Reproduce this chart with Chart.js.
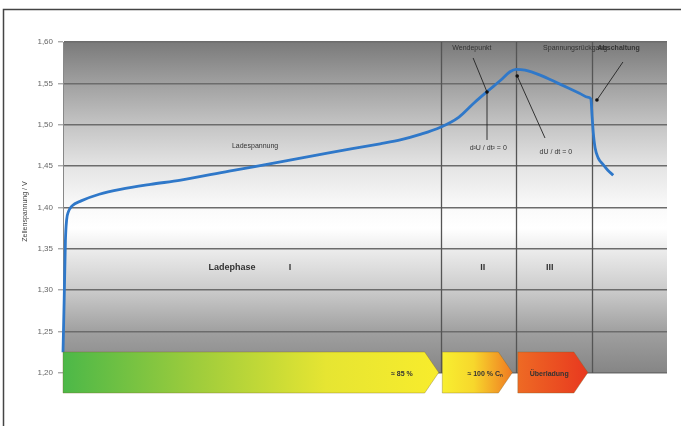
<!DOCTYPE html>
<html>
<head>
<meta charset="utf-8">
<script src="https://cdn.jsdelivr.net/npm/chart.js@4/dist/chart.umd.min.js"></script>
<style>
  html, body { margin: 0; padding: 0; background: #ffffff; }
  #wrap { width: 681px; height: 426px; position: relative; }
</style>
</head>
<body>
<div id="wrap"><canvas id="c" width="681" height="426"></canvas></div>
<script>
// Charge curve of a NiMH/NiCd cell: time axis (relative units) and cell voltage
const timeX = [0, 0.2, 0.4, 0.6, 0.9, 1.5, 3, 6, 9.5, 14.5, 19.5, 27.5, 36, 44, 52.5, 56, 59, 62.5,
  65.5, 68, 70.2, 72.5, 74, 75, 76.5, 79, 82, 85.5, 87.0, 87.4, 87.6, 87.8, 88.1, 88.6, 89.4, 90.2, 91.1];
const voltage = [1.225, 1.29, 1.36, 1.385, 1.395, 1.402, 1.408, 1.416, 1.422, 1.428, 1.433, 1.444,
  1.455, 1.466, 1.477, 1.482, 1.488, 1.497, 1.509, 1.526, 1.540, 1.554, 1.564, 1.567, 1.566, 1.560,
  1.550, 1.538, 1.533, 1.531, 1.510, 1.490, 1.472, 1.460, 1.452, 1.445, 1.439];

// Y axis
const yMin = 1.20, yMax = 1.60, yStep = 0.05;
const yTickLabels = ['1,20', '1,25', '1,30', '1,35', '1,40', '1,45', '1,50', '1,55', '1,60'];
const yTitle = 'Zellenspannung / V';

// Phase boundaries on the time axis
const phaseBounds = [62.5, 75, 87.5];

// Charge-state arrows along the bottom (start / tip on the time axis)
const arrowFrom = [0, 62.8, 75.3];
const arrowTo = [62.2, 74.4, 86.9];
const arrowLabels = ['≈ 85 %', '≈ 100 % Cₙ', 'Überladung'];
const arrowLabelX = [56.1, 69.9, 80.5];

// Phase names
const phaseTexts = ['Ladephase', 'I', 'II', 'III'];
const phaseTextX = [28.0, 37.6, 69.5, 80.6];
const phaseTextY = 1.327;

const bandTop = 1.2254, bandBottom = 1.1758;

const ctx = document.getElementById('c').getContext('2d');

const decor = {
  id: 'decor',
  beforeDraw(chart) {
    const c = chart.ctx, a = chart.chartArea, ys = chart.scales.y;
    c.save();
    // outer frame
    c.strokeStyle = '#444';
    c.lineWidth = 1.5;
    c.strokeRect(3.5, 9.5, 700, 440);
    // plot background: grey at top and bottom, white around 1,38 V
    const g = c.createLinearGradient(0, a.top, 0, a.bottom);
    const stops = [[1.60, '#7a7a7a'], [1.55, '#a0a0a0'], [1.50, '#c4c4c4'], [1.45, '#e4e4e4'],
      [1.40, '#fafafa'], [1.375, '#ffffff'], [1.35, '#ededed'], [1.30, '#cbcbcb'],
      [1.25, '#a0a0a0'], [1.20, '#858585']];
    stops.forEach(([v, col]) => {
      const t = (ys.getPixelForValue(v) - a.top) / (a.bottom - a.top);
      g.addColorStop(Math.min(1, Math.max(0, t)), col);
    });
    c.fillStyle = g;
    c.fillRect(a.left, a.top, a.right - a.left, a.bottom - a.top);
    c.restore();
  },
  beforeDatasetsDraw(chart) {
    const c = chart.ctx, a = chart.chartArea, xs = chart.scales.x;
    c.save();
    c.strokeStyle = '#555';
    c.lineWidth = 1.3;
    phaseBounds.forEach(v => {
      const px = Math.round(xs.getPixelForValue(v)) + 0.5;
      c.beginPath(); c.moveTo(px, a.top); c.lineTo(px, a.bottom); c.stroke();
    });
    c.restore();
  },
  afterDatasetsDraw(chart) {
    const c = chart.ctx, xs = chart.scales.x, ys = chart.scales.y;
    const X = v => xs.getPixelForValue(v), Y = v => ys.getPixelForValue(v);
    c.save();

    // annotations
    const font = '7px "Liberation Sans", Arial, sans-serif';
    c.fillStyle = '#333';
    c.strokeStyle = '#222';
    c.lineWidth = 0.9;
    c.textAlign = 'center';
    c.textBaseline = 'middle';
    c.font = font;
    c.fillText('Ladespannung', X(31.8), Y(1.4743));
    c.fillText('Wendepunkt', X(67.7), Y(1.5927));
    c.fillText('d²U / dt² = 0', X(70.4), Y(1.4719));
    c.fillText('dU / dt = 0', X(81.6), Y(1.4671));
    c.fillText('Spannungsrückgang', X(84.8), Y(1.5927));
    c.font = 'bold 7px "Liberation Sans", Arial, sans-serif';
    c.fillText('Abschaltung', X(92.0), Y(1.5927));
    const seg = (x1, y1, x2, y2) => {
      c.beginPath(); c.moveTo(X(x1), Y(y1)); c.lineTo(X(x2), Y(y2)); c.stroke();
    };
    const dot = (x, y) => {
      c.beginPath(); c.arc(X(x), Y(y), 1.8, 0, Math.PI * 2); c.fillStyle = '#111'; c.fill();
    };
    seg(67.9, 1.5807, 70.2, 1.5396);
    seg(70.2, 1.5396, 70.2, 1.4816);
    dot(70.2, 1.5396);
    seg(75.2, 1.5589, 79.8, 1.4840);
    dot(75.2, 1.5589);
    seg(88.4, 1.5299, 92.7, 1.5758);
    dot(88.4, 1.5299);

    // phase names
    c.fillStyle = '#333';
    c.font = 'bold 9px "Liberation Sans", Arial, sans-serif';
    phaseTexts.forEach((t, i) => c.fillText(t, X(phaseTextX[i]), Y(phaseTextY)));

    // charge-state arrows
    const grads = [
      [[0, '#4cb848'], [0.35, '#9dcc3c'], [0.7, '#e6e532'], [1, '#f8ec2c']],
      [[0, '#f8ef30'], [0.45, '#f7d72c'], [1, '#f07a22']],
      [[0, '#ee6a24'], [1, '#e8381f']]
    ];
    const top = Y(bandTop), bot = Y(bandBottom), mid = (top + bot) / 2, tip = 14;
    arrowFrom.forEach((f, i) => {
      const x0 = X(f), x1 = X(arrowTo[i]);
      const g = c.createLinearGradient(x0, 0, x1, 0);
      grads[i].forEach(([o, col]) => g.addColorStop(o, col));
      c.beginPath();
      c.moveTo(x0, top); c.lineTo(x1 - tip, top); c.lineTo(x1, mid);
      c.lineTo(x1 - tip, bot); c.lineTo(x0, bot); c.closePath();
      c.fillStyle = g; c.fill();
      c.strokeStyle = 'rgba(120,100,40,0.35)'; c.lineWidth = 1; c.stroke();
    });
    c.fillStyle = '#333';
    c.font = 'bold 7px "Liberation Sans", Arial, sans-serif';
    arrowLabels.forEach((t, i) => c.fillText(t, X(arrowLabelX[i]), mid + 2));

    // axis title
    c.save();
    c.translate(25, (chart.chartArea.top + chart.chartArea.bottom) / 2 + 4);
    c.rotate(-Math.PI / 2);
    c.font = '7px "Liberation Sans", Arial, sans-serif';
    c.fillStyle = '#444';
    c.fillText(yTitle, 0, 0);
    c.restore();

    c.restore();
  }
};

new Chart(ctx, {
  type: 'line',
  data: {
    datasets: [{
      data: timeX.map((x, i) => ({ x, y: voltage[i] })),
      borderColor: '#2f78c9',
      borderWidth: 2.8,
      pointRadius: 0,
      fill: false,
      cubicInterpolationMode: 'monotone',
      clip: false
    }]
  },
  options: {
    responsive: false,
    animation: false,
    layout: { padding: { left: 0, top: 42, right: 14, bottom: 53 } },
    plugins: { legend: { display: false }, tooltip: { enabled: false } },
    scales: {
      x: { type: 'linear', min: 0, max: 100, display: false },
      y: {
        min: yMin, max: yMax,
        afterFit(s) { s.width = 63; },
        ticks: {
          stepSize: yStep,
          color: '#666',
          padding: 5,
          font: { family: '"Liberation Sans", Arial, sans-serif', size: 8 },
          callback: v => yTickLabels[Math.round((v - yMin) / yStep)]
        },
        grid: { color: '#6c6c6c', lineWidth: 1.6, tickLength: 5, tickColor: '#888', tickWidth: 1 },
        border: { display: true, color: '#888', width: 1 }
      }
    }
  },
  plugins: [decor]
});
</script>
</body>
</html>
